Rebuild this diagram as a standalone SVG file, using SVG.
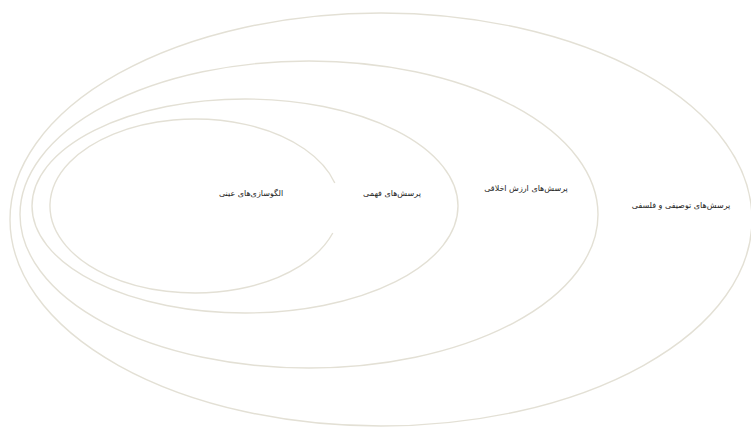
<svg xmlns="http://www.w3.org/2000/svg" width="751" height="427" viewBox="0 0 751 427">
<style>
.ring{fill:none;stroke:#e3e0d5;stroke-width:1.4}
.lbl{font-family:"DejaVu Sans","Noto Sans",sans-serif;font-size:8px;fill:#222222;text-anchor:middle}
</style>
<rect width="751" height="427" fill="#ffffff"/>
<g id="level4">
<ellipse class="ring" cx="381" cy="219.5" rx="371" ry="206.5"/>
<text class="lbl" x="681" y="208" direction="rtl">پرسش‌های توصیفی و فلسفی</text>
</g>
<g id="level3">
<ellipse class="ring" cx="309" cy="214.5" rx="289" ry="153.5"/>
<text class="lbl" x="526" y="191" direction="rtl">پرسش‌های ارزش اخلاقی</text>
</g>
<g id="level2">
<ellipse class="ring" cx="245" cy="206" rx="213" ry="107"/>
<text class="lbl" x="392" y="196" direction="rtl">پرسش‌های فهمی</text>
</g>
<g id="level1">
<path class="ring" d="M 334.8 183 A 145 87 0 1 0 332.8 233"/>
<text class="lbl" x="251" y="196" direction="rtl" font-size="8.5">الگوسازی‌های عینی</text>
</g>
<g id="connectors"></g>
</svg>
